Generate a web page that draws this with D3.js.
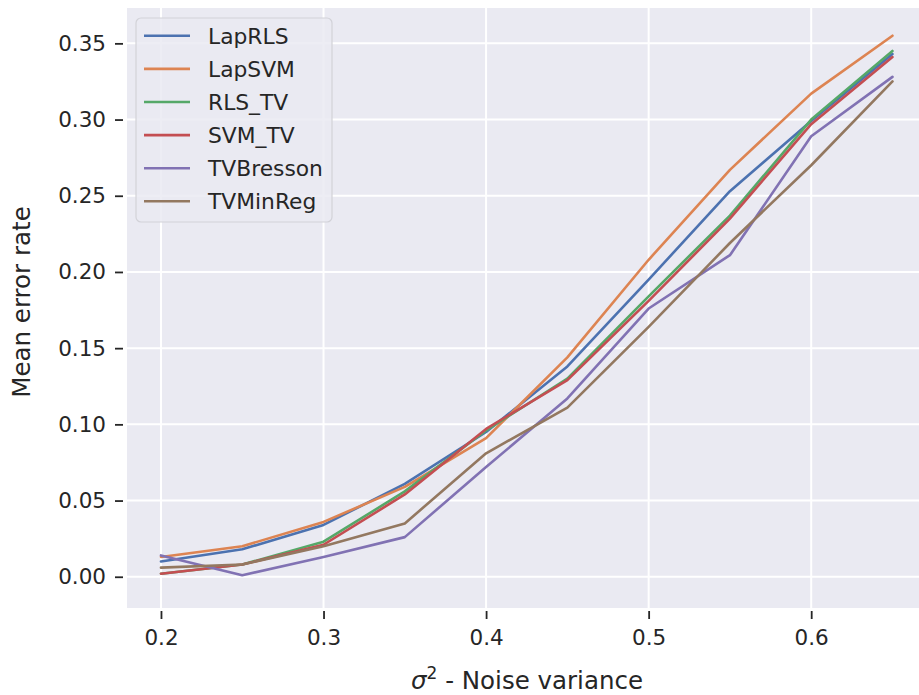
<!DOCTYPE html>
<html>
<head>
<meta charset="utf-8">
<script src="https://cdn.jsdelivr.net/npm/d3@7"></script>
<style>
  body { margin: 0; background: #fff; }
  svg { display: block; font-family: "DejaVu Sans", sans-serif; }
</style>
</head>
<body>
<svg id="chart" width="919" height="695"></svg>
<script>
// noise variance values on the x axis
var noiseVariance = [0.2, 0.25, 0.3, 0.35, 0.4, 0.45, 0.5, 0.55, 0.6, 0.65]

// mean error rate per method
var lapRLS    = [0.010, 0.018, 0.034, 0.061, 0.095, 0.138, 0.195, 0.253, 0.299, 0.343]
var lapSVM    = [0.013, 0.020, 0.036, 0.059, 0.091, 0.144, 0.208, 0.267, 0.317, 0.355]
var rlsTV     = [0.002, 0.008, 0.023, 0.056, 0.096, 0.130, 0.184, 0.237, 0.300, 0.345]
var svmTV     = [0.002, 0.008, 0.021, 0.054, 0.097, 0.129, 0.181, 0.235, 0.297, 0.341]
var tvBresson = [0.014, 0.001, 0.013, 0.026, 0.072, 0.117, 0.176, 0.211, 0.289, 0.328]
var tvMinReg  = [0.006, 0.008, 0.020, 0.035, 0.081, 0.111, 0.164, 0.219, 0.270, 0.325]

var seriesNames = ['LapRLS', 'LapSVM', 'RLS_TV', 'SVM_TV', 'TVBresson', 'TVMinReg']
var seriesValues = [lapRLS, lapSVM, rlsTV, svmTV, tvBresson, tvMinReg]

var xTicks = [0.2, 0.3, 0.4, 0.5, 0.6]
var yTicks = [0.00, 0.05, 0.10, 0.15, 0.20, 0.25, 0.30, 0.35]

// seaborn "deep" palette
var colors = ['#4C72B0', '#DD8452', '#55A868', '#C44E52', '#8172B3', '#937860']

var plot = { left: 127, right: 931, top: 8, bottom: 608 }

var svg = d3.select('#chart')

var x = d3.scaleLinear().domain([0.1791, 0.6737]).range([plot.left, plot.right])
var y = d3.scaleLinear().domain([-0.0205, 0.3732]).range([plot.bottom, plot.top])

svg.append('rect')
  .attr('x', plot.left).attr('y', plot.top)
  .attr('width', plot.right - plot.left).attr('height', plot.bottom - plot.top)
  .attr('fill', '#EAEAF2')

// grid
var grid = svg.append('g')
grid.selectAll('.gx').data(xTicks).enter().append('line')
  .attr('x1', function (d) { return x(d) }).attr('x2', function (d) { return x(d) })
  .attr('y1', plot.top).attr('y2', plot.bottom)
  .attr('stroke', '#fff').attr('stroke-width', 2)
grid.selectAll('.gy').data(yTicks).enter().append('line')
  .attr('x1', plot.left).attr('x2', plot.right)
  .attr('y1', function (d) { return y(d) }).attr('y2', function (d) { return y(d) })
  .attr('stroke', '#fff').attr('stroke-width', 2)

// axes (no domain line, short outward ticks)
var yAxis = svg.append('g')
  .attr('transform', 'translate(' + (plot.left - 4) + ',0)')
  .call(d3.axisLeft(y).tickValues(yTicks).tickFormat(d3.format('.2f')).tickSize(8).tickPadding(9))
var xAxis = svg.append('g')
  .attr('transform', 'translate(0,' + (plot.bottom + 3) + ')')
  .call(d3.axisBottom(x).tickValues(xTicks).tickFormat(d3.format('.1f')).tickSize(8).tickPadding(11))

;[xAxis, yAxis].forEach(function (ax) {
  ax.select('.domain').remove()
  ax.selectAll('line').attr('stroke', '#262626').attr('stroke-width', 1.8)
  ax.selectAll('text').attr('fill', '#262626').style('font-size', '21.5px')
    .style('font-family', '"DejaVu Sans", sans-serif')
})

// lines
var line = d3.line()
  .x(function (d, i) { return x(noiseVariance[i]) })
  .y(function (d) { return y(d) })

svg.append('g').selectAll('path').data(seriesValues).enter().append('path')
  .attr('d', line)
  .attr('fill', 'none')
  .attr('stroke', function (d, i) { return colors[i] })
  .attr('stroke-width', 2.6)
  .attr('stroke-linejoin', 'round')
  .attr('stroke-linecap', 'round')

// legend
var legend = svg.append('g')
legend.append('rect')
  .attr('x', 136).attr('y', 18).attr('width', 196).attr('height', 204)
  .attr('rx', 5)
  .attr('fill', '#EAEAF2').attr('fill-opacity', 0.85)
  .attr('stroke', '#d2d2d8').attr('stroke-width', 1.2)

var entries = legend.selectAll('.entry').data(seriesNames).enter().append('g')
  .attr('transform', function (d, i) { return 'translate(0,' + (35.8 + i * 33.1) + ')' })
entries.append('line')
  .attr('x1', 144).attr('x2', 190).attr('y1', 0).attr('y2', 0)
  .attr('stroke', function (d, i) { return colors[i] })
  .attr('stroke-width', 2.6)
entries.append('text')
  .attr('x', 208).attr('y', 0).attr('dy', '0.36em')
  .attr('fill', '#262626').style('font-size', '21.8px')
  .text(function (d) { return d })

// axis titles
svg.append('text')
  .attr('transform', 'translate(30,' + ((plot.top + plot.bottom) / 2 - 6) + ') rotate(-90)')
  .attr('text-anchor', 'middle')
  .attr('fill', '#262626').style('font-size', '24.5px')
  .text('Mean error rate')

var xTitle = svg.append('text')
  .attr('x', (plot.left + plot.right) / 2 - 2).attr('y', 689)
  .attr('text-anchor', 'middle')
  .attr('fill', '#262626').style('font-size', '24.5px')
xTitle.append('tspan').style('font-style', 'italic').text('σ')
xTitle.append('tspan').attr('dy', -10).style('font-size', '17px').text('2')
xTitle.append('tspan').attr('dy', 10).text(' - Noise variance')
</script>
</body>
</html>
